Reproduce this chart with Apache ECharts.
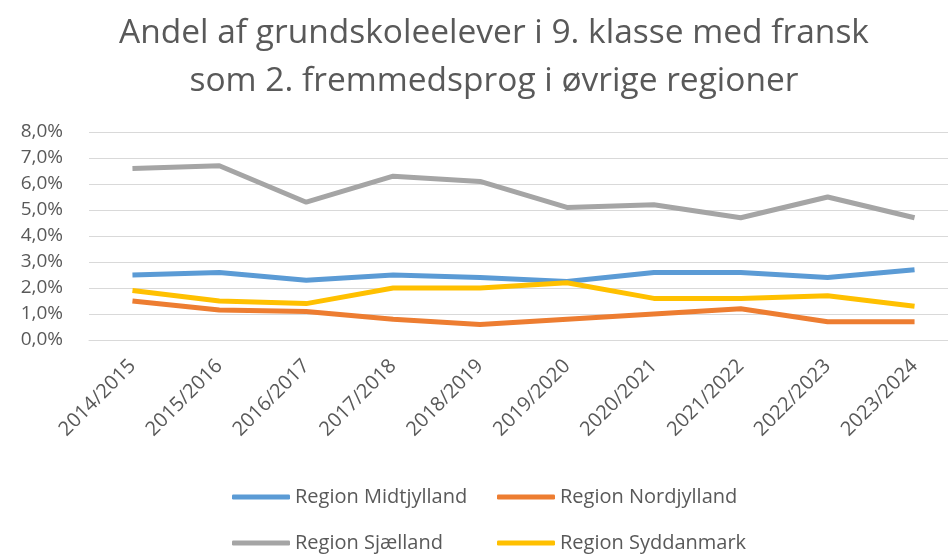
<!DOCTYPE html>
<html>
<head>
<meta charset="utf-8">
<script src="https://cdn.jsdelivr.net/npm/echarts@6/dist/echarts.min.js"></script>
<style>
  html, body { margin: 0; padding: 0; background: #fff; }
  #container { width: 948px; height: 555px; }
</style>
</head>
<body>
<div id="container"></div>
<script>
// skoleår
const years = ['2014/2015', '2015/2016', '2016/2017', '2017/2018', '2018/2019',
  '2019/2020', '2020/2021', '2021/2022', '2022/2023', '2023/2024']

// andel i procent
const midtjylland = [2.5, 2.6, 2.3, 2.5, 2.4, 2.25, 2.6, 2.6, 2.4, 2.7]
const nordjylland = [1.5, 1.15, 1.1, 0.8, 0.6, 0.8, 1.0, 1.2, 0.7, 0.7]
const sjaelland = [6.6, 6.7, 5.3, 6.3, 6.1, 5.1, 5.2, 4.7, 5.5, 4.7]
const syddanmark = [1.9, 1.5, 1.4, 2.0, 2.0, 2.2, 1.6, 1.6, 1.7, 1.3]

const names = ['Region Midtjylland', 'Region Nordjylland', 'Region Sjælland', 'Region Syddanmark']
const colors = ['#5B9BD5', '#ED7D31', '#A5A5A5', '#FFC000']
const values = [midtjylland, nordjylland, sjaelland, syddanmark]

const fontFamily = '"Open Sans", Lato, sans-serif'
const textColor = '#595959'

// legend laid out as 2x2
let legendPos = [
    { left: 232, top: 487 },
    { left: 497, top: 487 },
    { left: 232, top: 533 },
    { left: 497, top: 533 }
]

let options = {
    textStyle: { fontFamily: fontFamily },
    title: {
        text: 'Andel af grundskoleelever i 9. klasse med fransk\nsom 2. fremmedsprog i øvrige regioner',
        left: 489,
        textAlign: 'center',
        top: 4,
        textStyle: {
            color: textColor,
            fontSize: 33.5,
            fontWeight: 'normal',
            lineHeight: 48,
            fontFamily: fontFamily
        }
    },
    legend: names.map((n, i) => ({
        data: [n],
        left: legendPos[i].left,
        top: legendPos[i].top,
        icon: 'roundRect',
        itemWidth: 58,
        itemHeight: 5,
        padding: 0,
        textStyle: { color: textColor, fontSize: 20, fontFamily: fontFamily }
    })),
    grid: {
        left: 89,
        top: 132,
        width: 869,
        height: 208,
        outerBoundsMode: 'none'
    },
    xAxis: {
        type: 'category',
        data: years,
        boundaryGap: true,
        axisLine: { lineStyle: { color: '#d9d9d9' } },
        axisTick: { show: false },
        axisLabel: {
            rotate: 45,
            color: textColor,
            fontSize: 20,
            margin: 23,
            interval: 0
        }
    },
    yAxis: {
        type: 'value',
        min: 0,
        max: 8,
        interval: 1,
        axisLine: { show: false },
        axisTick: { show: false },
        splitLine: { lineStyle: { color: '#d9d9d9', width: 1 } },
        axisLabel: {
            color: textColor,
            fontSize: 19,
            margin: 26,
            formatter: v => v.toFixed(1).replace('.', ',') + '%'
        }
    },
    series: names.map((n, i) => ({
        name: n,
        type: 'line',
        data: values[i],
        showSymbol: false,
        symbol: 'none',
        color: colors[i],
        lineStyle: { width: 5, color: colors[i] }
    }))
}

let mychart = echarts.init(document.getElementById('container'))
mychart.setOption(options)
window.addEventListener('resize', () => { mychart.resize() })
</script>
</body>
</html>
